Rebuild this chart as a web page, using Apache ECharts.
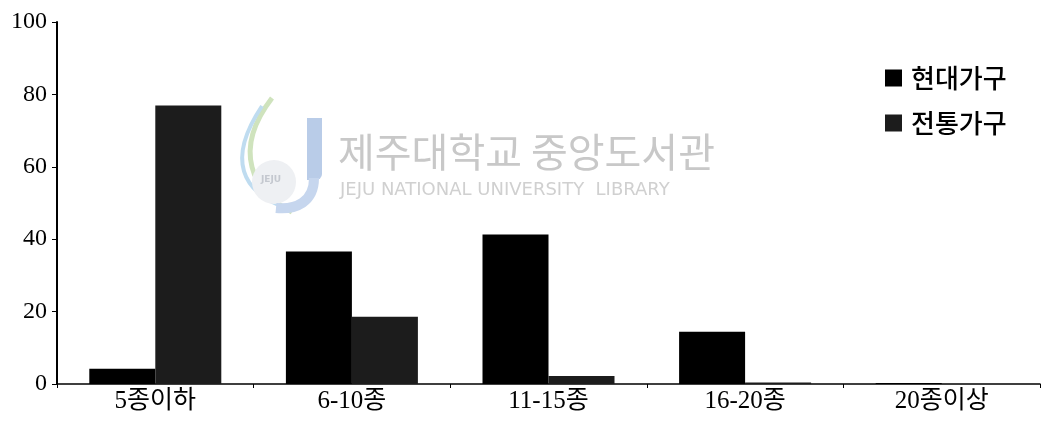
<!DOCTYPE html>
<html>
<head>
<meta charset="utf-8">
<script src="https://cdn.jsdelivr.net/npm/echarts@6/dist/echarts.min.js"></script>
<style>
html,body{margin:0;padding:0;background:#fff;}
#chart{width:1042px;height:421px;}
</style>
</head>
<body>
<div id="chart"></div>
<script>
// 가구 수 분포 (%)
var categories = ['5종이하', '6-10종', '11-15종', '16-20종', '20종이상'];
var modernVals = [4.2, 36.6, 41.3, 14.4, 0.3];      // 현대가구
var traditionalVals = [76.9, 18.6, 2.2, 0.4, 0];    // 전통가구
var yTicks = [0, 20, 40, 60, 80, 100];

var serif = "'Liberation Serif', 'Noto Sans CJK KR', serif";
var krFont = "'Noto Sans CJK KR', 'Liberation Serif', sans-serif";

var chart = echarts.init(document.getElementById('chart'));

var option = {
    animation: false,
    backgroundColor: '#fff',
    grid: {
        left: 57,
        right: 2,
        top: 22,
        bottom: 37,
        containLabel: false
    },
    legend: {
        orient: 'vertical',
        left: 880,
        top: 60,
        itemWidth: 17,
        itemHeight: 17,
        itemGap: 19,
        icon: 'rect',
        data: ['현대가구', '전통가구'],
        textStyle: {
            fontFamily: krFont,
            fontSize: 26,
            fontWeight: 500,
            color: '#000',
            lineHeight: 26,
            padding: [0, 0, 0, 4]
        }
    },
    xAxis: {
        type: 'category',
        data: categories,
        axisLine: { lineStyle: { color: '#000', width: 1.5 } },
        axisTick: { show: true, length: 4, lineStyle: { color: '#000' } },
        axisLabel: {
            color: '#000',
            fontFamily: serif,
            fontSize: 25,
            margin: 5
        }
    },
    yAxis: {
        type: 'value',
        min: yTicks[0],
        max: yTicks[yTicks.length - 1],
        interval: 20,
        splitLine: { show: false },
        axisLine: { show: true, lineStyle: { color: '#000', width: 2 } },
        axisTick: { show: true, length: 5, lineStyle: { color: '#000' } },
        axisLabel: {
            color: '#000',
            fontFamily: serif,
            fontSize: 24,
            margin: 10
        }
    },
    // 워터마크
    graphic: [
        {
            type: 'bezierCurve', z: -1,
            shape: { x1: 272, y1: 98, x2: 292, y2: 212, cpx1: 232, cpy1: 150, cpx2: 252, cpy2: 192 },
            style: { stroke: '#cfe3bd', lineWidth: 5, fill: null }
        },
        {
            type: 'bezierCurve', z: -1,
            shape: { x1: 262, y1: 106, x2: 286, y2: 208, cpx1: 226, cpy1: 160, cpx2: 242, cpy2: 192 },
            style: { stroke: '#bfdcf0', lineWidth: 4, fill: null }
        },
        {
            type: 'circle', z: -1,
            shape: { cx: 274, cy: 182, r: 22 },
            style: { fill: '#eef0f3' }
        },
        {
            type: 'text', z: -1, left: 261, top: 175,
            style: { text: 'JEJU', fill: '#c4c8cf', font: 'bold 9px "DejaVu Sans"' }
        },
        {
            type: 'rect', z: -1,
            shape: { x: 307, y: 118, width: 15, height: 62, r: [0, 0, 6, 0] },
            style: { fill: '#b9cce8' }
        },
        {
            type: 'bezierCurve', z: -1,
            shape: { x1: 314, y1: 178, x2: 276, y2: 208, cpx1: 314, cpy1: 202, cpx2: 296, cpy2: 210 },
            style: { stroke: '#c6d6ee', lineWidth: 10, fill: null }
        },
        {
            type: 'text', z: -1, left: 338, top: 132,
            style: { text: '제주대학교 중앙도서관', fill: '#c8c8c8', font: '40px "Noto Sans CJK KR"' }
        },
        {
            type: 'text', z: -1, left: 340, top: 181,
            style: { text: 'JEJU NATIONAL UNIVERSITY  LIBRARY', fill: '#d0d0d0', font: '18px "DejaVu Sans"' }
        }
    ],
    series: [
        {
            name: '현대가구',
            type: 'bar',
            data: modernVals,
            barWidth: 66,
            barGap: '0%',
            itemStyle: { color: '#000' }
        },
        {
            name: '전통가구',
            type: 'bar',
            data: traditionalVals,
            barWidth: 66,
            barGap: '0%',
            itemStyle: { color: '#1c1c1c' }
        }
    ]
};

chart.setOption(option);
</script>
</body>
</html>
